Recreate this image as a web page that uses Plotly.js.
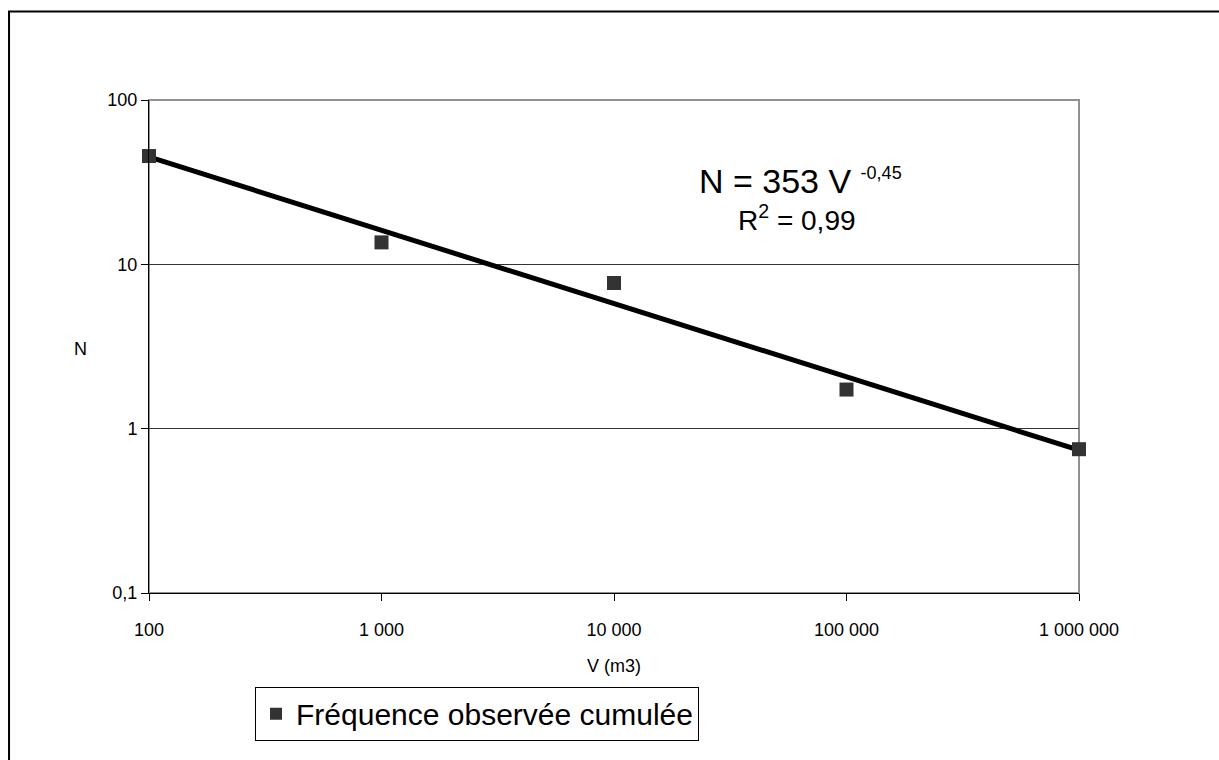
<!DOCTYPE html>
<html>
<head>
<meta charset="utf-8">
<script src="https://cdn.plot.ly/plotly-3.0.1.min.js"></script>
<style>
html,body{margin:0;padding:0;background:#fff;}
#chart{width:1219px;height:760px;}
</style>
</head>
<body>
<div id="chart"></div>
<script>
// Observed cumulative frequency
const volumes = [100, 1000, 10000, 100000, 1000000];
const frequency = [45.6, 13.6, 7.7, 1.73, 0.75];
// Power-law trend line endpoints
const trendV = [100, 1000000];
const trendN = [45, 0.74];
// Axis ticks
const xTickVals = [100, 1000, 10000, 100000, 1000000];
const xTickText = ["100", "1 000", "10 000", "100 000", "1 000 000"];
const yTickVals = [0.1, 1, 10, 100];
const yTickText = ["0,1", "1", "10", "100"];
const seriesName = "Fréquence observée cumulée";

const font = "Liberation Sans, Arial, sans-serif";

const traces = [
  {
    x: trendV, y: trendN, type: "scatter", mode: "lines",
    line: {color: "#000", width: 5}, showlegend: false, hoverinfo: "skip"
  },
  {
    x: volumes, y: frequency, type: "scatter", mode: "markers", name: seriesName,
    marker: {symbol: "square", size: 14, color: "#333333", line: {width: 0}},
    cliponaxis: false
  }
];

const layout = {
  width: 1219, height: 760,
  margin: {l: 149, r: 140, t: 100, b: 167},
  paper_bgcolor: "#fff", plot_bgcolor: "#fff",
  font: {family: font, color: "#000", size: 18},
  showlegend: true,
  legend: {
    x: 0.114, y: -0.19, xanchor: "left", yanchor: "top",
    bordercolor: "#000", borderwidth: 1, bgcolor: "#fff",
    font: {family: font, size: 30, color: "#000"},
    itemsizing: "constant"
  },
  xaxis: {
    type: "log", range: [2, 6],
    tickvals: xTickVals, ticktext: xTickText,
    showgrid: false, zeroline: false,
    showline: true, linecolor: "#000", linewidth: 1,
    ticks: "outside", ticklen: 7, tickcolor: "#000",
    ticklabelstandoff: 13,
    tickfont: {family: font, size: 18},
    title: {text: "V (m3)", font: {family: font, size: 18}, standoff: 20}
  },
  yaxis: {
    type: "log", range: [-1, 2],
    tickvals: yTickVals, ticktext: yTickText,
    showgrid: true, gridcolor: "#333", gridwidth: 1,
    zeroline: false,
    showline: true, linecolor: "#000", linewidth: 1,
    ticks: "outside", ticklen: 7, tickcolor: "#000",
    tickfont: {family: font, size: 18}
  },
  shapes: [
    {type: "rect", xref: "paper", yref: "paper", x0: 0, x1: 1, y0: 0, y1: 1,
     line: {color: "#909090", width: 2}, layer: "below"},
    {type: "path", xref: "paper", yref: "paper",
     path: "M -0.1505,-0.6 L -0.1505,1.1795 L 1.3,1.1795",
     line: {color: "#000", width: 2}}
  ],
  annotations: [
    {xref: "paper", yref: "paper", x: -0.074, y: 0.495, text: "N", showarrow: false,
     font: {family: font, size: 18}, xanchor: "center", yanchor: "middle"},
    {xref: "paper", yref: "paper", x: 0.7, y: 0.835,
     text: "N = 353 V <sup><span style=\"font-size:18px\">-0,45</span></sup>",
     showarrow: false, font: {family: font, size: 34}, xanchor: "center", yanchor: "middle"},
    {xref: "paper", yref: "paper", x: 0.697, y: 0.76, text: "R<sup>2</sup> = 0,99",
     showarrow: false, font: {family: font, size: 28}, xanchor: "center", yanchor: "middle"}
  ]
};

Plotly.newPlot("chart", traces, layout, {displayModeBar: false, staticPlot: true});
</script>
</body>
</html>
